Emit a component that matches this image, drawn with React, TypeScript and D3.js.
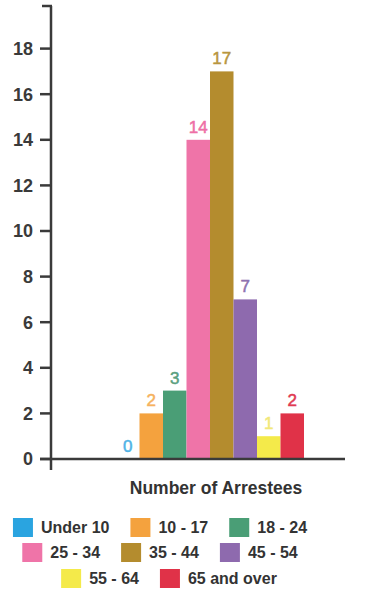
import React, { useEffect, useRef } from "react";
import * as d3 from "d3";

const categories = ["Under 10", "10 - 17", "18 - 24", "25 - 34", "35 - 44", "45 - 54", "55 - 64", "65 and over"];
const values = [0, 2, 3, 14, 17, 7, 1, 2];
const colors = ["#2aa4e0", "#f4a23e", "#4a9e76", "#ef74a8", "#b48c2e", "#8e6aae", "#f4ea4a", "#e03248"];
const labelColors = ["#4fb3e6", "#f6b25e", "#5a9f80", "#ee6fa6", "#b8963e", "#8e72b0", "#f2e87a", "#e03a52"];
const yTicks = [0, 2, 4, 6, 8, 10, 12, 14, 16, 18];
const xTitle = "Number of Arrestees";
const legendRows = [[0, 1, 2], [3, 4, 5], [6, 7]];

const W = 369;
const H = 599;
const FONT = "'Liberation Sans', Arial, Helvetica, sans-serif";

export default function App() {
  const ref = useRef<SVGSVGElement>(null);

  useEffect(() => {
    const svg = d3.select(ref.current);
    svg.selectAll("*").remove();

    const y = d3.scaleLinear().domain([0, 20]).range([459, 3]);
    const x = d3.scaleBand<string>().domain(categories).range([116, 304]).padding(0);

    const axisColor = "#3a3a3a";

    // bars
    svg
      .append("g")
      .selectAll("rect")
      .data(values)
      .join("rect")
      .attr("x", (_, i) => x(categories[i])!)
      .attr("width", x.bandwidth())
      .attr("y", (d) => y(d))
      .attr("height", (d) => y(0) - y(d))
      .attr("fill", (_, i) => colors[i]);

    // value labels
    svg
      .append("g")
      .selectAll("text")
      .data(values)
      .join("text")
      .attr("x", (_, i) => x(categories[i])! + x.bandwidth() / 2)
      .attr("y", (d) => y(d) - 7)
      .attr("text-anchor", "middle")
      .attr("font-family", FONT)
      .attr("font-size", 17)
      .attr("fill", (_, i) => labelColors[i])
      .attr("stroke", (_, i) => labelColors[i])
      .attr("stroke-width", 0.5)
      .text((d) => String(d));

    // y axis line
    svg
      .append("line")
      .attr("x1", 51)
      .attr("x2", 51)
      .attr("y1", 6)
      .attr("y2", 470)
      .attr("stroke", axisColor)
      .attr("stroke-width", 2.5);
    // top cap
    svg
      .append("line")
      .attr("x1", 42)
      .attr("x2", 52)
      .attr("y1", 6)
      .attr("y2", 6)
      .attr("stroke", axisColor)
      .attr("stroke-width", 2.5);

    // ticks
    const tg = svg.append("g");
    tg.selectAll("line")
      .data(yTicks)
      .join("line")
      .attr("x1", 40)
      .attr("x2", 51)
      .attr("y1", (d) => y(d))
      .attr("y2", (d) => y(d))
      .attr("stroke", axisColor)
      .attr("stroke-width", 2.5);
    tg.selectAll("text")
      .data(yTicks)
      .join("text")
      .attr("x", 33)
      .attr("y", (d) => y(d))
      .attr("dy", "0.36em")
      .attr("text-anchor", "end")
      .attr("font-family", FONT)
      .attr("font-weight", "bold")
      .attr("font-size", 18)
      .attr("fill", axisColor)
      .text((d) => String(d));

    // x axis line
    svg
      .append("line")
      .attr("x1", 40)
      .attr("x2", 345)
      .attr("y1", y(0))
      .attr("y2", y(0))
      .attr("stroke", axisColor)
      .attr("stroke-width", 2.5);

    // x title
    svg
      .append("text")
      .attr("x", 216)
      .attr("y", 494)
      .attr("text-anchor", "middle")
      .attr("font-family", FONT)
      .attr("font-size", 17.5)
      .attr("font-weight", "bold")
      .attr("fill", "#333")
      .text(xTitle);

    // legend
    const rowTops = [518, 543, 569];
    const rowCenters = [160, 160, 169];
    const sw = 20;
    const sh = 19;
    const gapText = 8;
    const gapItem = 21;
    legendRows.forEach((row, ri) => {
      const g = svg.append("g");
      const items = row.map((ci) => {
        const ig = g.append("g");
        ig.append("rect").attr("width", sw).attr("height", sh).attr("fill", colors[ci]);
        const t = ig
          .append("text")
          .attr("x", sw + gapText)
          .attr("y", sh / 2)
          .attr("dy", "0.36em")
          .attr("font-family", FONT)
          .attr("font-size", 16)
          .attr("font-weight", "bold")
          .attr("fill", "#333")
          .text(categories[ci]);
        const tw = (t.node() as SVGTextElement).getComputedTextLength();
        return { ig, w: sw + gapText + tw };
      });
      const total = d3.sum(items, (d) => d.w) + gapItem * (items.length - 1);
      let cx = rowCenters[ri] - total / 2;
      items.forEach((it) => {
        it.ig.attr("transform", `translate(${cx},${rowTops[ri]})`);
        cx += it.w + gapItem;
      });
    });
  }, []);

  return (
    <svg ref={ref} width={W} height={H} style={{ position: "absolute", left: 0, top: 0, background: "#fff" }} />
  );
}
